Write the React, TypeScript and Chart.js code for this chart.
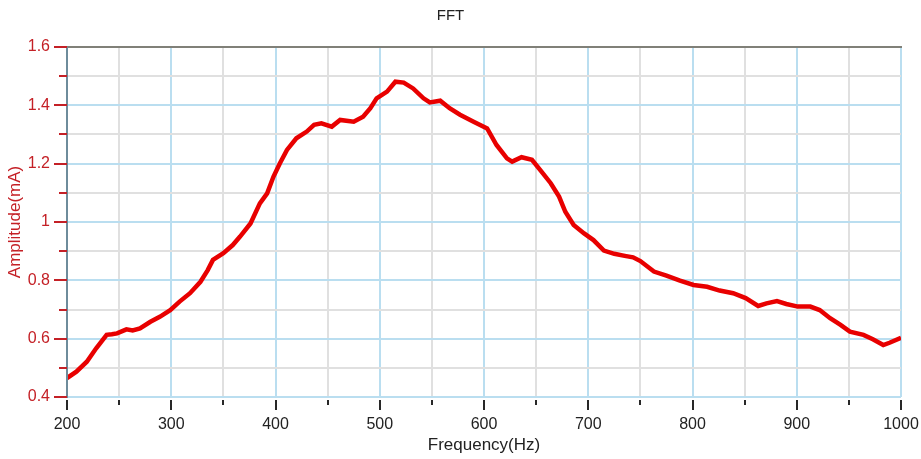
import React, { useEffect, useRef } from "react";
import { Chart, registerables } from "chart.js";

Chart.register(...registerables);

const chartTitle = "FFT";
const xTitle = "Frequency(Hz)";
const yTitle = "Amplitude(mA)";

const freqHz = [
  200, 209, 219, 228, 238, 243, 248, 257, 263, 270, 280, 289, 299, 308, 318, 328, 335, 340, 350, 359,
  366, 376, 385, 392, 398, 404, 411, 420, 430, 437, 444, 454, 462, 475, 484, 491, 497, 507, 515, 523,
  532, 542, 548, 558, 567, 577, 590, 603, 612, 622, 627, 636, 646, 654, 664, 672, 678, 686, 696, 705,
  715, 725, 735, 743, 750, 763, 775, 788, 801, 814, 826, 839, 851, 863, 871, 881, 890, 901, 913, 922,
  932, 942, 951, 964, 973, 983, 989, 1000,
];

const amplitudeMA = [
  0.465, 0.487, 0.521, 0.567, 0.613, 0.615, 0.618, 0.632, 0.628, 0.635, 0.658, 0.675, 0.698, 0.727, 0.756, 0.795, 0.835, 0.87, 0.893, 0.921,
  0.95, 0.995, 1.064, 1.098, 1.155, 1.2, 1.247, 1.287, 1.31, 1.333, 1.338, 1.327, 1.35, 1.344, 1.361, 1.39, 1.424, 1.447, 1.481, 1.478,
  1.458, 1.424, 1.41, 1.416, 1.39, 1.368, 1.344, 1.321, 1.264, 1.218, 1.207, 1.222, 1.213, 1.178, 1.133, 1.087, 1.035, 0.99, 0.961, 0.938,
  0.902, 0.891, 0.884, 0.879, 0.866, 0.83, 0.816, 0.799, 0.784, 0.778, 0.765, 0.756, 0.739, 0.712, 0.721, 0.729, 0.719, 0.71, 0.71, 0.698,
  0.67, 0.647, 0.624, 0.613, 0.598, 0.578, 0.586, 0.603,
];

const xMin = 200;
const xMax = 1000;
const xStep = 50;
const yMin = 0.4;
const yMax = 1.6;
const yStep = 0.1;

const RED_TEXT = "rgb(196,32,38)";
const LINE_RED = "rgb(232,0,0)";
const GRID_BLUE = "rgb(186,222,240)";
const GRID_GRAY = "rgb(224,224,224)";
const FONT = "'Liberation Sans', Arial, sans-serif";

const isMajorY = (v: number) => Math.round(v * 10) % 2 === 0;
const isMajorX = (v: number) => Math.round(v) % 100 === 0;

const tickPlugin = {
  id: "customTicks",
  afterDraw(chart: any) {
    const { ctx, chartArea } = chart;
    const xs = chart.scales.x;
    const ys = chart.scales.y;
    ctx.save();
    // top border
    ctx.strokeStyle = "rgb(128,128,120)";
    ctx.lineWidth = 2;
    ctx.beginPath();
    ctx.moveTo(chartArea.left, chartArea.top);
    ctx.lineTo(chartArea.right + 1, chartArea.top);
    ctx.stroke();
    // left border
    ctx.strokeStyle = "rgb(110,140,155)";
    ctx.beginPath();
    ctx.moveTo(chartArea.left, chartArea.top);
    ctx.lineTo(chartArea.left, chartArea.bottom + 1);
    ctx.stroke();
    // y ticks
    ctx.strokeStyle = RED_TEXT;
    ctx.lineWidth = 2;
    ys.ticks.forEach((t: any) => {
      const y = Math.round(ys.getPixelForValue(t.value));
      const len = isMajorY(t.value) ? 13 : 8;
      ctx.beginPath();
      ctx.moveTo(chartArea.left - len, y);
      ctx.lineTo(chartArea.left, y);
      ctx.stroke();
    });
    // x ticks
    ctx.strokeStyle = "rgb(40,40,40)";
    xs.ticks.forEach((t: any) => {
      const x = Math.round(xs.getPixelForValue(t.value));
      const y0 = chartArea.bottom + 3;
      const len = isMajorX(t.value) ? 10 : 5;
      ctx.beginPath();
      ctx.moveTo(x, y0);
      ctx.lineTo(x, y0 + len);
      ctx.stroke();
    });
    ctx.restore();
  },
};

export default function App() {
  const canvasRef = useRef<HTMLCanvasElement | null>(null);

  useEffect(() => {
    document.body.style.margin = "0";
    const canvas = canvasRef.current;
    if (!canvas) return;
    const points = freqHz.map((f, i) => ({ x: f, y: amplitudeMA[i] }));
    const chart = new Chart(canvas, {
      type: "line",
      data: {
        datasets: [
          {
            data: points,
            borderColor: LINE_RED,
            backgroundColor: LINE_RED,
            borderWidth: 4.5,
            pointRadius: 0,
            tension: 0,
            fill: false,
          },
        ],
      },
      options: {
        animation: false,
        responsive: false,
        devicePixelRatio: 1,
        layout: { padding: { left: 0, right: 20, top: 0, bottom: 0 } },
        plugins: {
          legend: { display: false },
          tooltip: { enabled: false },
          title: {
            display: true,
            text: chartTitle,
            color: "#222",
            font: { family: FONT, size: 15, weight: "normal" },
            padding: { top: 7, bottom: 22 },
          },
        },
        scales: {
          x: {
            type: "linear",
            min: xMin,
            max: xMax,
            afterFit: (s: any) => {
              s.height = 62;
              s.paddingLeft = 0;
              s.paddingRight = 0;
            },
            ticks: {
              stepSize: xStep,
              autoSkip: false,
              maxRotation: 0,
              padding: 18,
              color: "#222",
              font: { family: FONT, size: 16 },
              callback: (v: any) => (isMajorX(Number(v)) ? String(Math.round(Number(v))) : ""),
            },
            grid: {
              drawTicks: false,
              lineWidth: 2,
              color: (c: any) => (c.tick && isMajorX(c.tick.value) ? GRID_BLUE : GRID_GRAY),
            },
            border: { display: false },
            title: {
              display: true,
              text: xTitle,
              color: "#222",
              font: { family: FONT, size: 17 },
              padding: { top: 0, bottom: 3 },
            },
          },
          y: {
            type: "linear",
            min: yMin,
            max: yMax,
            afterFit: (s: any) => {
              s.width = 67;
              s.paddingTop = 0;
              s.paddingBottom = 0;
            },
            ticks: {
              stepSize: yStep,
              autoSkip: false,
              padding: 17,
              color: RED_TEXT,
              font: { family: FONT, size: 16 },
              callback: (v: any) => {
                const n = Math.round(Number(v) * 10);
                return n % 2 === 0 ? String(n / 10) : "";
              },
            },
            grid: {
              drawTicks: false,
              lineWidth: 2,
              color: (c: any) => (c.tick && isMajorY(c.tick.value) ? GRID_BLUE : GRID_GRAY),
            },
            border: { display: false },
            title: {
              display: true,
              text: yTitle,
              color: RED_TEXT,
              font: { family: FONT, size: 17 },
              padding: { top: 5, bottom: 0 },
            },
          },
        },
      },
      plugins: [tickPlugin],
    });
    return () => chart.destroy();
  }, []);

  return (
    <div style={{ width: 921, height: 459, background: "#fff" }}>
      <canvas ref={canvasRef} width={921} height={459} style={{ display: "block" }} />
    </div>
  );
}
